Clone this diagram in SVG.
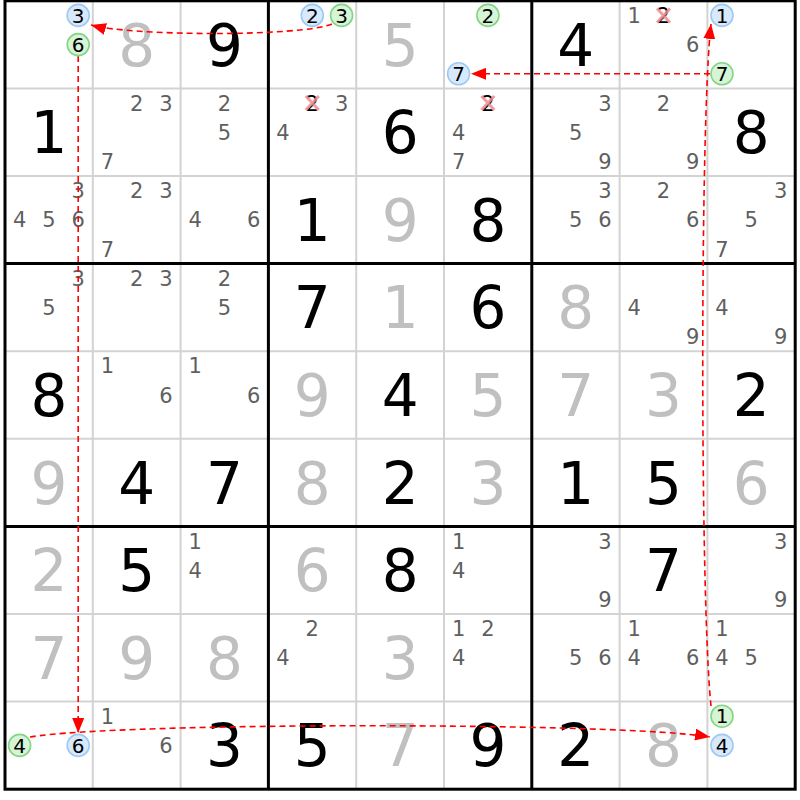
<svg xmlns="http://www.w3.org/2000/svg" width="800" height="800" viewBox="0 0 800 800">
<style>
.thin{stroke:#d3d3d3;stroke-width:2;fill:none}
.thick{stroke:#000;stroke-width:3;fill:none}
.big{font-family:"DejaVu Sans",sans-serif;font-size:58px;text-anchor:middle}
.k{fill:#000}
.g{fill:#c0c0c0}
.c{font-family:"DejaVu Sans",sans-serif;font-size:21px;text-anchor:middle;fill:#5f5f5f}
.cx{fill:#000}
.x{stroke:#f08c8c;stroke-width:3;stroke-opacity:0.85}
.cb{fill:#d7e9fb;stroke:#9ccaf3;stroke-width:1.6}
.cg{fill:#d6f4d6;stroke:#86d486;stroke-width:1.6}
.cd{font-family:"DejaVu Sans",sans-serif;font-size:20px;text-anchor:middle;fill:#000}
.link{stroke:#ff0000;stroke-width:1.6;stroke-dasharray:6 4;fill:none;marker-end:url(#ah)}
</style>
<defs>
<marker id="ah" markerUnits="userSpaceOnUse" markerWidth="16" markerHeight="12" refX="15" refY="6" orient="auto">
<path d="M0,0 L15,6 L0,12 Z" fill="#ff0000"/>
</marker>
</defs>
<rect x="0" y="0" width="800" height="800" fill="#fff"/>
<g id="grid">
<path class="thin" d="M92.8,0.8V789.2M180.6,0.8V789.2M356.2,0.8V789.2M444,0.8V789.2M619.6,0.8V789.2M707.4,0.8V789.2M5,88.4H795.2M5,176H795.2M5,351.2H795.2M5,438.8H795.2M5,614H795.2M5,701.6H795.2"/>
<path class="thick" d="M268.4,0.8V789.2M531.8,0.8V789.2M5,263.6H795.2M5,526.4H795.2"/>
<rect class="thick" x="5" y="0.8" width="790.2" height="788.4"/>
</g>
<g id="givens">
<text class="big g" x="136.7" y="65.6">8</text>
<text class="big k" x="224.5" y="65.6">9</text>
<text class="big g" x="400.1" y="65.6">5</text>
<text class="big k" x="575.7" y="65.6">4</text>
<text class="big k" x="48.9" y="153.2">1</text>
<text class="big k" x="400.1" y="153.2">6</text>
<text class="big k" x="751.3" y="153.2">8</text>
<text class="big k" x="312.3" y="240.8">1</text>
<text class="big g" x="400.1" y="240.8">9</text>
<text class="big k" x="487.9" y="240.8">8</text>
<text class="big k" x="312.3" y="328.4">7</text>
<text class="big g" x="400.1" y="328.4">1</text>
<text class="big k" x="487.9" y="328.4">6</text>
<text class="big g" x="575.7" y="328.4">8</text>
<text class="big k" x="48.9" y="416">8</text>
<text class="big g" x="312.3" y="416">9</text>
<text class="big k" x="400.1" y="416">4</text>
<text class="big g" x="487.9" y="416">5</text>
<text class="big g" x="575.7" y="416">7</text>
<text class="big g" x="663.5" y="416">3</text>
<text class="big k" x="751.3" y="416">2</text>
<text class="big g" x="48.9" y="503.6">9</text>
<text class="big k" x="136.7" y="503.6">4</text>
<text class="big k" x="224.5" y="503.6">7</text>
<text class="big g" x="312.3" y="503.6">8</text>
<text class="big k" x="400.1" y="503.6">2</text>
<text class="big g" x="487.9" y="503.6">3</text>
<text class="big k" x="575.7" y="503.6">1</text>
<text class="big k" x="663.5" y="503.6">5</text>
<text class="big g" x="751.3" y="503.6">6</text>
<text class="big g" x="48.9" y="591.2">2</text>
<text class="big k" x="136.7" y="591.2">5</text>
<text class="big g" x="312.3" y="591.2">6</text>
<text class="big k" x="400.1" y="591.2">8</text>
<text class="big k" x="663.5" y="591.2">7</text>
<text class="big g" x="48.9" y="678.8">7</text>
<text class="big g" x="136.7" y="678.8">9</text>
<text class="big g" x="224.5" y="678.8">8</text>
<text class="big g" x="400.1" y="678.8">3</text>
<text class="big k" x="224.5" y="766.4">3</text>
<text class="big k" x="312.3" y="766.4">5</text>
<text class="big g" x="400.1" y="766.4">7</text>
<text class="big k" x="487.9" y="766.4">9</text>
<text class="big k" x="575.7" y="766.4">2</text>
<text class="big g" x="663.5" y="766.4">8</text>
</g>
<g id="candidates">
<text class="c" x="634.2" y="23">1</text>
<text class="c" x="692.8" y="52.2">6</text>
<text class="c" x="136.7" y="110.6">2</text>
<text class="c" x="166" y="110.6">3</text>
<text class="c" x="107.4" y="169">7</text>
<text class="c" x="224.5" y="110.6">2</text>
<text class="c" x="224.5" y="139.8">5</text>
<text class="c" x="341.6" y="110.6">3</text>
<text class="c" x="283" y="139.8">4</text>
<text class="c" x="458.6" y="139.8">4</text>
<text class="c" x="458.6" y="169">7</text>
<text class="c" x="605" y="110.6">3</text>
<text class="c" x="575.7" y="139.8">5</text>
<text class="c" x="605" y="169">9</text>
<text class="c" x="663.5" y="110.6">2</text>
<text class="c" x="692.8" y="169">9</text>
<text class="c" x="78.2" y="198.2">3</text>
<text class="c" x="19.6" y="227.4">4</text>
<text class="c" x="48.9" y="227.4">5</text>
<text class="c" x="78.2" y="227.4">6</text>
<text class="c" x="136.7" y="198.2">2</text>
<text class="c" x="166" y="198.2">3</text>
<text class="c" x="107.4" y="256.6">7</text>
<text class="c" x="195.2" y="227.4">4</text>
<text class="c" x="253.8" y="227.4">6</text>
<text class="c" x="605" y="198.2">3</text>
<text class="c" x="575.7" y="227.4">5</text>
<text class="c" x="605" y="227.4">6</text>
<text class="c" x="663.5" y="198.2">2</text>
<text class="c" x="692.8" y="227.4">6</text>
<text class="c" x="780.6" y="198.2">3</text>
<text class="c" x="751.3" y="227.4">5</text>
<text class="c" x="722" y="256.6">7</text>
<text class="c" x="78.2" y="285.8">3</text>
<text class="c" x="48.9" y="315">5</text>
<text class="c" x="136.7" y="285.8">2</text>
<text class="c" x="166" y="285.8">3</text>
<text class="c" x="224.5" y="285.8">2</text>
<text class="c" x="224.5" y="315">5</text>
<text class="c" x="634.2" y="315">4</text>
<text class="c" x="692.8" y="344.2">9</text>
<text class="c" x="722" y="315">4</text>
<text class="c" x="780.6" y="344.2">9</text>
<text class="c" x="107.4" y="373.4">1</text>
<text class="c" x="166" y="402.6">6</text>
<text class="c" x="195.2" y="373.4">1</text>
<text class="c" x="253.8" y="402.6">6</text>
<text class="c" x="195.2" y="548.6">1</text>
<text class="c" x="195.2" y="577.8">4</text>
<text class="c" x="458.6" y="548.6">1</text>
<text class="c" x="458.6" y="577.8">4</text>
<text class="c" x="605" y="548.6">3</text>
<text class="c" x="605" y="607">9</text>
<text class="c" x="780.6" y="548.6">3</text>
<text class="c" x="780.6" y="607">9</text>
<text class="c" x="312.3" y="636.2">2</text>
<text class="c" x="283" y="665.4">4</text>
<text class="c" x="458.6" y="636.2">1</text>
<text class="c" x="487.9" y="636.2">2</text>
<text class="c" x="458.6" y="665.4">4</text>
<text class="c" x="575.7" y="665.4">5</text>
<text class="c" x="605" y="665.4">6</text>
<text class="c" x="634.2" y="636.2">1</text>
<text class="c" x="634.2" y="665.4">4</text>
<text class="c" x="692.8" y="665.4">6</text>
<text class="c" x="722" y="636.2">1</text>
<text class="c" x="722" y="665.4">4</text>
<text class="c" x="751.3" y="665.4">5</text>
<text class="c" x="107.4" y="723.8">1</text>
<text class="c" x="166" y="753">6</text>
</g>
<g id="eliminated">
<text class="c cx" x="663.5" y="23">2</text>
<path class="x" d="M657,8.4L670,22.4M670,8.4L657,22.4"/>
<text class="c cx" x="312.3" y="110.6">2</text>
<path class="x" d="M305.8,96L318.8,110M318.8,96L305.8,110"/>
<text class="c cx" x="487.9" y="110.6">2</text>
<path class="x" d="M481.4,96L494.4,110M494.4,96L481.4,110"/>
</g>
<g id="connectors">
<path class="link" d="M332,24 C300,37 130,36 91,25"/>
<path class="link" d="M710,73.8 L471,73.8"/>
<path class="link" d="M711,706 C700,600 700,120 711,24"/>
<path class="link" d="M78.2,56 L78.2,733"/>
<path class="link" d="M30,737 C120,722 620,722 710,737"/>
</g>
<g id="circled">
<g id="c00a"><circle class="cb" cx="78.2" cy="15.4" r="11"/><text class="cd" x="78.2" y="22.6">3</text></g>
<g id="c00b"><circle class="cg" cx="78.2" cy="44.6" r="11"/><text class="cd" x="78.2" y="51.8">6</text></g>
<g id="c03a"><circle class="cb" cx="312.3" cy="15.4" r="11"/><text class="cd" x="312.3" y="22.6">2</text></g>
<g id="c03b"><circle class="cg" cx="341.6" cy="15.4" r="11"/><text class="cd" x="341.6" y="22.6">3</text></g>
<g id="c05a"><circle class="cg" cx="487.9" cy="15.4" r="11"/><text class="cd" x="487.9" y="22.6">2</text></g>
<g id="c05b"><circle class="cb" cx="458.6" cy="73.8" r="11"/><text class="cd" x="458.6" y="81">7</text></g>
<g id="c08a"><circle class="cb" cx="722" cy="15.4" r="11"/><text class="cd" x="722" y="22.6">1</text></g>
<g id="c08b"><circle class="cg" cx="722" cy="73.8" r="11"/><text class="cd" x="722" y="81">7</text></g>
<g id="c80a"><circle class="cg" cx="19.6" cy="745.4" r="11"/><text class="cd" x="19.6" y="752.6">4</text></g>
<g id="c80b"><circle class="cb" cx="78.2" cy="745.4" r="11"/><text class="cd" x="78.2" y="752.6">6</text></g>
<g id="c88a"><circle class="cg" cx="722" cy="716.2" r="11"/><text class="cd" x="722" y="723.4">1</text></g>
<g id="c88b"><circle class="cb" cx="722" cy="745.4" r="11"/><text class="cd" x="722" y="752.6">4</text></g>
</g>
</svg>
